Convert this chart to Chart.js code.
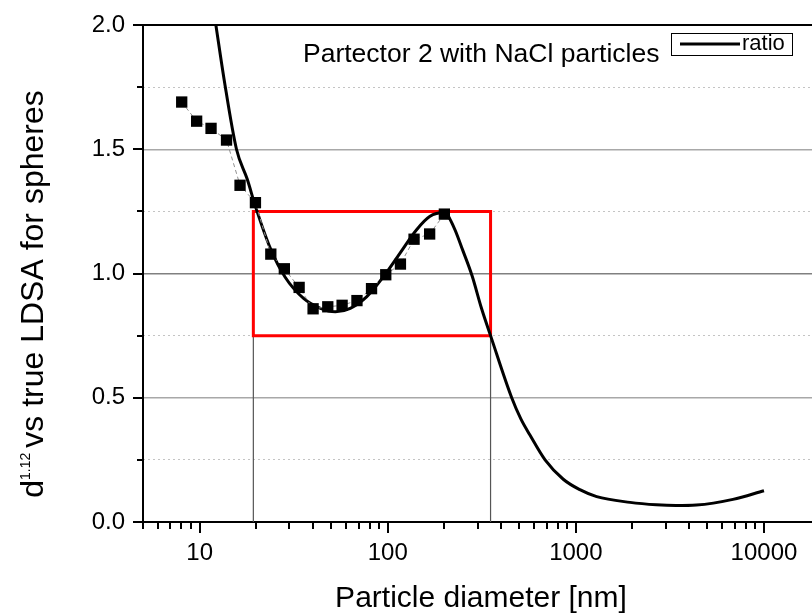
<!DOCTYPE html>
<html>
<head>
<meta charset="utf-8">
<script src="https://cdn.jsdelivr.net/npm/chart.js@4.4.1/dist/chart.umd.min.js"></script>
<style>
  html, body { margin: 0; padding: 0; background: #fff; overflow: hidden; }
  #wrap { width: 812px; height: 615px; position: relative; }
</style>
</head>
<body>
<div id="wrap"><canvas id="ratioChart"></canvas></div>
<script>
// measured points (black squares)
const measDiameter = [8.03, 9.64, 11.5, 13.9, 16.4, 19.8, 23.9, 28.2, 33.8, 40.1, 48.0, 57.2, 68.6, 82.0, 97.6, 116.8, 138, 167, 200];
const measRatio = [1.690, 1.613, 1.584, 1.537, 1.355, 1.285, 1.078, 1.019, 0.944, 0.858, 0.866, 0.872, 0.891, 0.939, 0.995, 1.038, 1.138, 1.159, 1.239];

// "ratio" curve
const curveDiameter = [12.2, 13.5, 15.7, 17.9, 19.8, 23.8, 28.5, 35.7, 43.9, 52.7, 63.2, 77.4, 94.4, 116, 142, 167, 200, 225, 250, 281, 315, 352, 456, 510, 570, 686, 857, 1050, 1290, 1940, 2680, 3400, 4370, 6840, 10000];
const curveRatio = [2.0, 1.78, 1.50, 1.38, 1.27, 1.10, 0.985, 0.90, 0.86, 0.846, 0.86, 0.907, 0.985, 1.081, 1.175, 1.229, 1.245, 1.185, 1.095, 0.99, 0.86, 0.75, 0.5, 0.415, 0.35, 0.25, 0.172, 0.13, 0.102, 0.079, 0.069, 0.066, 0.068, 0.091, 0.126];

// red box corners, guide lines go from the box down to 0
const boxDiameter = [19.3, 352];
const boxRatio = [0.75, 1.25];

const xTickLabels = [10, 100, 1000, 10000];
const xMinorSteps = [2, 3, 4, 5, 6, 7, 8, 9];
const yTickLabels = [0, 0.5, 1.0, 1.5, 2.0];
const yMinorTicks = [0.25, 0.75, 1.25, 1.75];

const xMin = 5, xMax = 18000;
const xMinorTicks = [];
[1, 10, 100, 1000].forEach(d => xMinorSteps.forEach(s => {
  if (d * s >= xMin) xMinorTicks.push(d * s);
}));

const toPts = (xs, ys) => xs.map((v, i) => ({ x: v, y: ys[i] }));

const FONT = "'Liberation Sans', Arial, sans-serif";

// frame, tick marks, titles and the little legend box
const framePlugin = {
  id: 'frame',
  afterDraw(chart) {
    const { ctx, chartArea: a, scales } = chart;
    const x = scales.x, y = scales.y;
    ctx.save();
    ctx.strokeStyle = '#000';
    ctx.lineWidth = 2;

    ctx.beginPath();
    ctx.moveTo(a.left - 1, a.top);
    ctx.lineTo(a.right, a.top);
    ctx.stroke();

    // x ticks
    ctx.beginPath();
    xTickLabels.forEach(v => {
      const px = Math.round(x.getPixelForValue(v));
      ctx.moveTo(px, a.bottom); ctx.lineTo(px, a.bottom + 11);
    });
    xMinorTicks.forEach(v => {
      const px = Math.round(x.getPixelForValue(v));
      ctx.moveTo(px, a.bottom); ctx.lineTo(px, a.bottom + 7);
    });
    // y ticks
    yTickLabels.forEach(v => {
      const py = Math.round(y.getPixelForValue(v));
      ctx.moveTo(a.left, py); ctx.lineTo(a.left - 10, py);
    });
    yMinorTicks.forEach(v => {
      const py = Math.round(y.getPixelForValue(v));
      ctx.moveTo(a.left, py); ctx.lineTo(a.left - 6, py);
    });
    ctx.stroke();

    ctx.fillStyle = '#000';

    // x title
    ctx.font = '30px ' + FONT;
    ctx.textAlign = 'center';
    ctx.textBaseline = 'alphabetic';
    ctx.fillText('Particle diameter [nm]', 481, 607);

    // y title with superscript
    const mainF = '32px ' + FONT, supF = '14px ' + FONT;
    ctx.font = mainF;
    const wd = ctx.measureText('d').width;
    const wRest = ctx.measureText('vs true LDSA for spheres').width;
    ctx.font = supF;
    const wSup = ctx.measureText('1.12').width;
    const gap = 5;
    const total = wd + wSup + gap + wRest;
    ctx.save();
    ctx.translate(43, 294);
    ctx.rotate(-Math.PI / 2);
    ctx.textAlign = 'left';
    let cx = -total / 2;
    ctx.font = mainF;
    ctx.fillText('d', cx, 0);
    cx += wd;
    ctx.font = supF;
    ctx.fillText('1.12', cx, -13);
    cx += wSup + gap;
    ctx.font = mainF;
    ctx.fillText('vs true LDSA for spheres', cx, 0);
    ctx.restore();

    // annotation
    ctx.font = '26.5px ' + FONT;
    ctx.textAlign = 'left';
    ctx.fillText('Partector 2 with NaCl particles', 303, 62);

    // legend box
    const ds = chart.data.datasets[1];
    ctx.fillStyle = '#fff';
    ctx.fillRect(671, 33, 121, 22);
    ctx.lineWidth = 1;
    ctx.strokeRect(671.5, 33.5, 121, 22);
    ctx.beginPath();
    ctx.lineWidth = ds.borderWidth;
    ctx.moveTo(680, 44); ctx.lineTo(740, 44);
    ctx.stroke();
    ctx.fillStyle = '#000';
    ctx.font = '22px ' + FONT;
    ctx.textBaseline = 'middle';
    ctx.fillText(ds.label, 742, 44);
    ctx.restore();
  }
};

new Chart(document.getElementById('ratioChart'), {
  type: 'scatter',
  data: {
    datasets: [
      {
        label: 'NaCl',
        data: toPts(measDiameter, measRatio),
        showLine: true,
        borderColor: '#909090',
        borderWidth: 1,
        borderDash: [4, 3],
        pointStyle: 'rect',
        pointRadius: 8,
        pointBackgroundColor: '#000',
        pointBorderColor: '#000',
        pointBorderWidth: 0,
        order: 0
      },
      {
        label: 'ratio',
        data: toPts(curveDiameter, curveRatio),
        showLine: true,
        borderColor: '#000',
        borderWidth: 3,
        pointRadius: 0,
        cubicInterpolationMode: 'monotone',
        order: 1
      },
      {
        label: 'box',
        data: toPts(
          [boxDiameter[0], boxDiameter[1], boxDiameter[1], boxDiameter[0], boxDiameter[0], boxDiameter[1]],
          [boxRatio[1], boxRatio[1], boxRatio[0], boxRatio[0], boxRatio[1], boxRatio[1]]),
        showLine: true,
        borderColor: '#ff0000',
        borderWidth: 3,
        borderJoinStyle: 'miter',
        pointRadius: 0,
        order: 2
      },
      {
        label: 'guideLow',
        data: toPts([boxDiameter[0], boxDiameter[0]], [0, boxRatio[0]]),
        showLine: true,
        borderColor: '#555',
        borderWidth: 1.2,
        pointRadius: 0,
        order: 3
      },
      {
        label: 'guideHigh',
        data: toPts([boxDiameter[1], boxDiameter[1]], [0, boxRatio[0]]),
        showLine: true,
        borderColor: '#555',
        borderWidth: 1.2,
        pointRadius: 0,
        order: 3
      }
    ]
  },
  options: {
    responsive: true,
    maintainAspectRatio: false,
    animation: false,
    events: [],
    layout: { autoPadding: false, padding: { top: 25, left: 0, right: 0, bottom: 0 } },
    plugins: {
      legend: { display: false },
      tooltip: { enabled: false }
    },
    scales: {
      x: {
        type: 'logarithmic',
        min: xMin,
        max: xMax,
        afterBuildTicks: s => { s.ticks = xTickLabels.map(v => ({ value: v })); },
        afterFit: s => { s.height = 93; s.paddingLeft = 0; s.paddingRight = 0; },
        ticks: {
          color: '#000',
          font: { size: 24, family: FONT },
          padding: 17,
          maxRotation: 0,
          autoSkip: false,
          callback: v => String(v)
        },
        grid: { drawOnChartArea: false, drawTicks: false },
        border: { color: '#000', width: 2 }
      },
      y: {
        min: 0,
        max: 2,
        afterBuildTicks: s => { s.ticks = yTickLabels.map(v => ({ value: v })); },
        afterFit: s => { s.width = 143; s.paddingTop = 0; s.paddingBottom = 0; },
        ticks: {
          color: '#000',
          font: { size: 24, family: FONT },
          padding: 18,
          callback: v => v.toFixed(1)
        },
        grid: {
          drawTicks: false,
          lineWidth: 1.5,
          color: c => (c.tick.value === 0 || c.tick.value === 2) ? 'rgba(0,0,0,0)'
            : (c.tick.value === 1 ? '#808080' : '#a8a8a8')
        },
        border: { color: '#000', width: 2 }
      },
      y2: {
        position: 'right',
        min: 0,
        max: 2,
        afterBuildTicks: s => { s.ticks = yMinorTicks.map(v => ({ value: v })); },
        afterFit: s => { s.width = 0; s.paddingTop = 0; s.paddingBottom = 0; },
        ticks: { display: false },
        grid: { drawTicks: false, color: '#c4c4c4', lineWidth: 1 },
        border: { display: false, dash: [2, 3] }
      }
    }
  },
  plugins: [framePlugin]
});
</script>
</body>
</html>
